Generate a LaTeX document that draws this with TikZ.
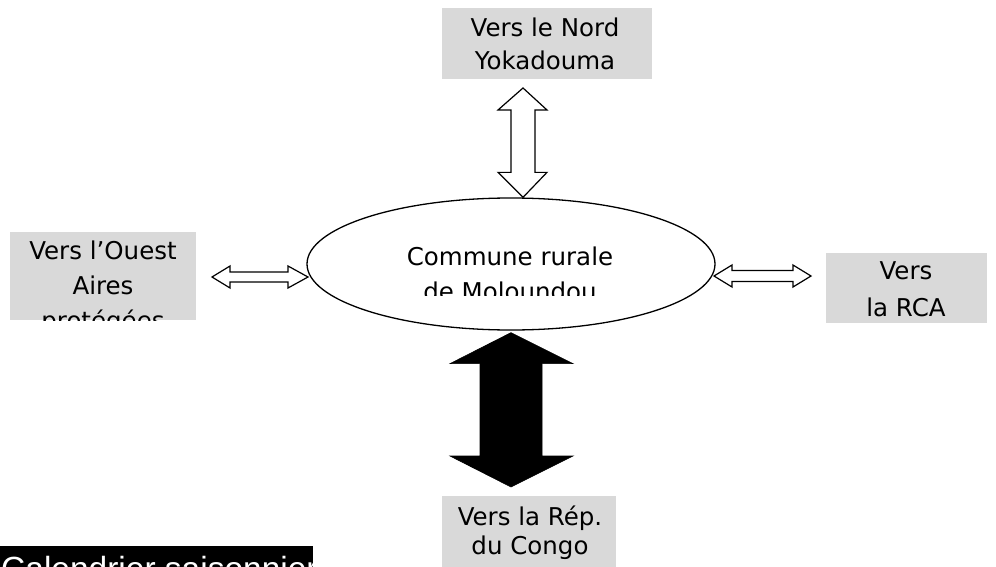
\documentclass[tikz,border=0pt]{standalone}
\usepackage{fontspec}
\setmainfont{DejaVu Sans}
\newfontfamily\calfont{Liberation Sans}
\usetikzlibrary{shapes.geometric,calc}
\tikzset{
  zone/.style={rectangle, fill=boxgray, inner sep=0pt},
  lbl/.style={anchor=base, inner sep=0pt, font=\fontsize{24.5}{28}\selectfont},
  hollow/.style={draw=black, fill=white, line width=1.2pt, line join=miter},
  solidarrow/.style={draw=black, fill=black, line width=0.6pt},
}
\definecolor{boxgray}{HTML}{D9D9D9}
\begin{document}
\begin{tikzpicture}[x=1pt, y=-1pt]
\useasboundingbox (0,0) rectangle (996,567);
\clip (0,0) rectangle (996,567);

% the commune in the middle
\node[ellipse, draw, line width=1.3pt, inner sep=0pt,
      minimum width=408, minimum height=132] (commune) at (511,264) {};
\begin{scope}
  \clip (330,225) rectangle (690,295);
  \node[lbl] (c1) at (510,265) {Commune rurale};
  \node[lbl] (c2) at (510,300) {de Moloundou};
\end{scope}

% destination boxes
\node[zone, minimum width=210, minimum height=71] (nord) at (547,43.5) {};
\node[lbl] (n1) at (545,37) {Vers le Nord};
\node[lbl] (n2) at (545,70) {Yokadouma};

\node[zone, minimum width=186, minimum height=88] (ouest) at (103,276) {};
\begin{scope}
  \clip (ouest.south west) rectangle (ouest.north east);
  \node[lbl] (o1) at (103,259) {Vers l’Ouest};
  \node[lbl] (o2) at (103,294) {Aires};
  \node[lbl] (o3) at (103,329) {protégées};
\end{scope}

\node[zone, minimum width=161, minimum height=70] (rca) at (906.5,288) {};
\node[lbl] (r1) at (906,279) {Vers};
\node[lbl] (r2) at (906,316) {la RCA};

\node[zone, minimum width=174, minimum height=80] (congo) at (529,536) {};
\node[lbl] (g1) at (530,525) {Vers la Rép.};
\node[lbl] (g2) at (530,554) {du Congo};

% heading below the diagram
\node[rectangle, fill=black, inner sep=0pt, minimum width=313, minimum height=30,
      anchor=north west] (calbox) at (0,546) {};
\node[anchor=base west, inner sep=0pt, text=white,
      font=\calfont\fontsize{33.5}{36}\selectfont] (cal) at (1,580) {Calendrier saisonnier};

% arrow tips
\coordinate (nt) at (523,88);
\coordinate (nb) at (nt |- commune.north);
\coordinate (st) at ($(commune.south)+(0,2)$);
\coordinate (sb) at (511,487);
\coordinate (wl) at (212,277);
\coordinate (wr) at (308,277);
\coordinate (el) at (714,276);
\coordinate (er) at (811,276);

% north: hollow double arrow
\draw[hollow] (nt) -- ++(24,22) -- ++(-12,0) -- ($(nb)+(12,-25)$) -- ++(12,0)
  -- (nb) -- ++(-25,-25) -- ++(13,0) -- ($(nt)+(-12,22)$) -- ++(-13,0) -- cycle;

% south: solid double arrow
\draw[solidarrow] (st) -- ++(62,31) -- ++(-31,0) -- ($(sb)+(31,-31)$) -- ++(31,0)
  -- (sb) -- ++(-61,-31) -- ++(30,0) -- ($(st)+(-31,31)$) -- ++(-30,0) -- cycle;

% west: hollow double arrow
\draw[hollow] (wl) -- ++(18,-11) -- ++(0,6) -- ($(wr)+(-20,-5)$) -- ++(0,-6)
  -- (wr) -- ++(-20,11) -- ++(0,-6) -- ($(wl)+(18,5)$) -- ++(0,6) -- cycle;

% east: hollow double arrow
\draw[hollow] (el) -- ++(18,-11) -- ++(0,5.5) -- ($(er)+(-18,-5.5)$) -- ++(0,-5.5)
  -- (er) -- ++(-18,11) -- ++(0,-5.5) -- ($(el)+(18,5.5)$) -- ++(0,5.5) -- cycle;
\end{tikzpicture}
\end{document}
